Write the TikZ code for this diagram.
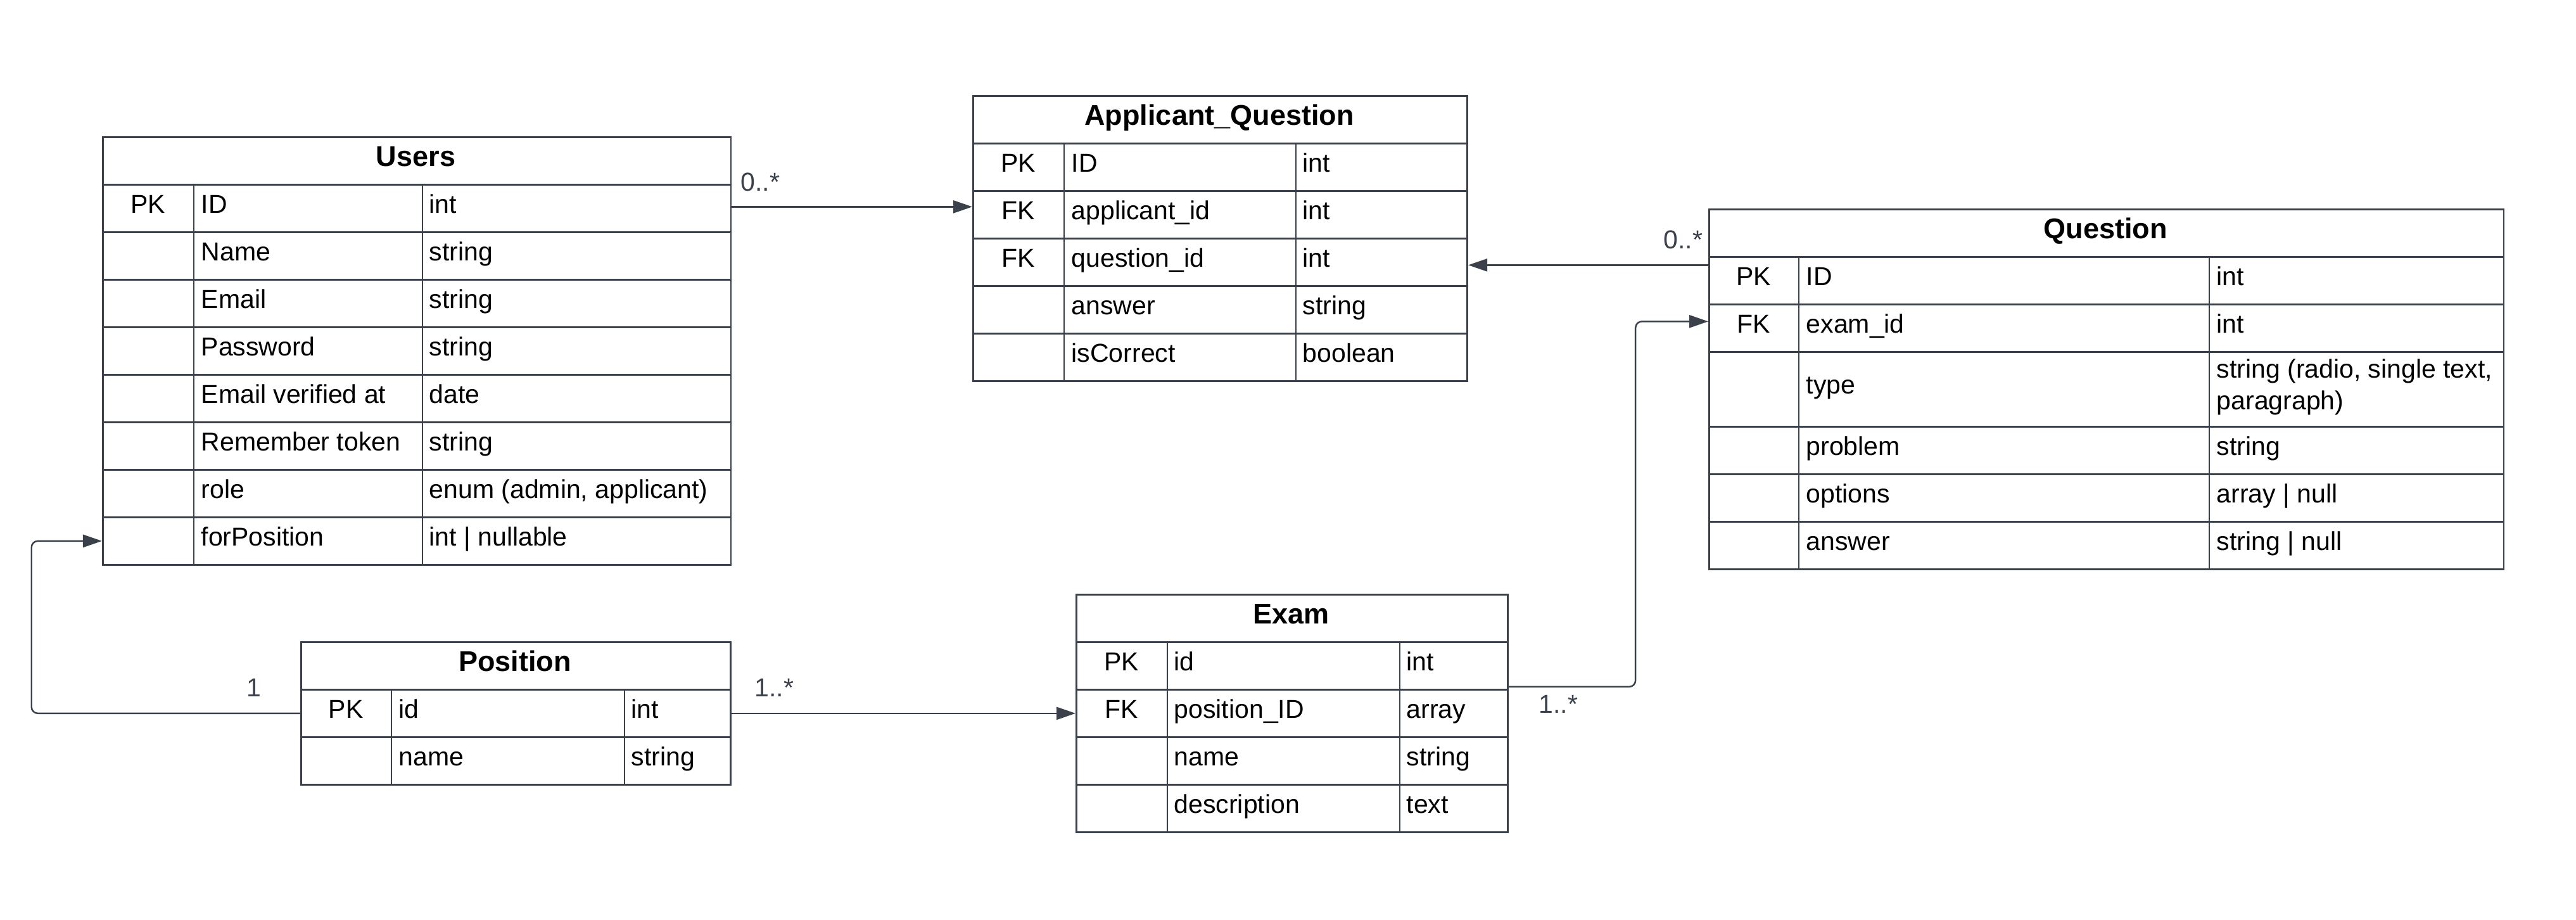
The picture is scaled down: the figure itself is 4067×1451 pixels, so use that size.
\documentclass[tikz,border=0pt]{standalone}
\usepackage{fontspec}
\setmainfont{Liberation Sans}
\usetikzlibrary{arrows.meta,calc}
\definecolor{linec}{HTML}{3A414A}
\definecolor{labc}{HTML}{3A414A}
\newcommand{\bodyfont}{\fontsize{11.66pt}{14pt}\selectfont}
\newcommand{\hdrfont}{\fontsize{12.8pt}{15pt}\selectfont\bfseries}
\tikzset{
  cell/.style={draw=linec, line width=0.75pt, inner sep=0pt, anchor=north west, minimum height=0.75cm},
  colline/.style={draw=linec, line width=0.75pt},
  htxt/.style={inner sep=0pt, anchor=base, font=\hdrfont, text=black},
  txt/.style={inner sep=0pt, anchor=base west, font=\bodyfont, text=black},
  ktxt/.style={inner sep=0pt, anchor=base, font=\bodyfont, text=black},
  conn/.style={draw=linec, line width=0.7pt, -{Triangle[length=0.3cm,width=0.2cm]}, rounded corners=0.1cm},
  mult/.style={inner sep=0pt, font=\bodyfont, text=labc}
}
\begin{document}
\begin{tikzpicture}[x=0.01cm,y=-0.01cm]
\useasboundingbox (0,0) rectangle (4067,1451);
\fill[white] (0,0) rectangle (4067,1451);

% ---------------- Users ----------------
\node[cell, minimum width=9.91cm] (users) at (161,215) {};
\node[htxt] (users-t) at (656.5,262) {Users};
\foreach \k/\n/\t [count=\i] in {PK/ID/int, {}/Name/string, {}/Email/string, {}/Password/string, {}/Email verified at/date, {}/Remember token/string, {}/role/{enum (admin, applicant)}, {}/forPosition/{int | nullable}} {
  \node[cell, minimum width=9.91cm] (U\i) at (161,{290+75*(\i-1)}) {};
  \node[ktxt] (U\i-k) at (233.5,{336+75*(\i-1)}) {\k};
  \node[txt] (U\i-n) at (317,{336+75*(\i-1)}) {\n};
  \node[txt] (U\i-t) at (677,{336+75*(\i-1)}) {\t};
}
\draw[colline] (306,290) -- (306,890) (667,290) -- (667,890);

% ---------------- Applicant_Question ----------------
\node[cell, minimum width=7.80cm] (aq) at (1535,150) {};
\node[htxt] (aq-t) at (1925,197) {Applicant\_Question};
\foreach \k/\n/\t [count=\i] in {PK/ID/int, FK/applicant\_id/int, FK/question\_id/int, {}/answer/string, {}/isCorrect/boolean} {
  \node[cell, minimum width=7.80cm] (A\i) at (1535,{225+75*(\i-1)}) {};
  \node[ktxt] (A\i-k) at (1607.5,{271+75*(\i-1)}) {\k};
  \node[txt] (A\i-n) at (1691,{271+75*(\i-1)}) {\n};
  \node[txt] (A\i-t) at (2056,{271+75*(\i-1)}) {\t};
}
\draw[colline] (1680,225) -- (1680,600) (2046,225) -- (2046,600);

% ---------------- Question ----------------
\node[cell, minimum width=12.54cm] (q) at (2697,329) {};
\node[htxt] (q-t) at (3324,376) {Question};
\node[cell, minimum width=12.54cm] (Q1) at (2697,404) {};
\node[cell, minimum width=12.54cm] (Q2) at (2697,479) {};
\node[cell, minimum width=12.54cm, minimum height=1.18cm] (Q3) at (2697,554) {};
\node[cell, minimum width=12.54cm] (Q4) at (2697,672) {};
\node[cell, minimum width=12.54cm] (Q5) at (2697,747) {};
\node[cell, minimum width=12.54cm] (Q6) at (2697,822) {};
\draw[colline] (2840,404) -- (2840,897) (3488,404) -- (3488,897);
\node[ktxt] (Q1-k) at (2768.5,450) {PK};
\node[txt]  (Q1-n) at (2851,450) {ID};
\node[txt]  (Q1-t) at (3499,450) {int};
\node[ktxt] (Q2-k) at (2768.5,525) {FK};
\node[txt]  (Q2-n) at (2851,525) {exam\_id};
\node[txt]  (Q2-t) at (3499,525) {int};
\node[txt]  (Q3-n) at (2851,621) {type};
\node[txt]  (Q3-t) at (3499,596) {string (radio, single text,};
\node[txt]  (Q3-u) at (3499,646) {paragraph)};
\node[txt]  (Q4-n) at (2851,718) {problem};
\node[txt]  (Q4-t) at (3499,718) {string};
\node[txt]  (Q5-n) at (2851,793) {options};
\node[txt]  (Q5-t) at (3499,793) {array | null};
\node[txt]  (Q6-n) at (2851,868) {answer};
\node[txt]  (Q6-t) at (3499,868) {string | null};

% ---------------- Position ----------------
\node[cell, minimum width=6.78cm] (pos) at (474,1012) {};
\node[htxt] (pos-t) at (813,1059) {Position};
\foreach \k/\n/\t [count=\i] in {PK/id/int, {}/name/string} {
  \node[cell, minimum width=6.78cm] (P\i) at (474,{1087+75*(\i-1)}) {};
  \node[ktxt] (P\i-k) at (546,{1133+75*(\i-1)}) {\k};
  \node[txt] (P\i-n) at (629,{1133+75*(\i-1)}) {\n};
  \node[txt] (P\i-t) at (996,{1133+75*(\i-1)}) {\t};
}
\draw[colline] (618,1087) -- (618,1237) (986,1087) -- (986,1237);

% ---------------- Exam ----------------
\node[cell, minimum width=6.81cm] (exam) at (1698,937) {};
\node[htxt] (exam-t) at (2038.5,984) {Exam};
\foreach \k/\n/\t [count=\i] in {PK/id/int, FK/position\_ID/array, {}/name/string, {}/description/text} {
  \node[cell, minimum width=6.81cm] (E\i) at (1698,{1012+75*(\i-1)}) {};
  \node[ktxt] (E\i-k) at (1770.5,{1058+75*(\i-1)}) {\k};
  \node[txt] (E\i-n) at (1853,{1058+75*(\i-1)}) {\n};
  \node[txt] (E\i-t) at (2220,{1058+75*(\i-1)}) {\t};
}
\draw[colline] (1843,1012) -- (1843,1312) (2210,1012) -- (2210,1312);

% ---------------- Connectors ----------------
\draw[conn] ([yshift=0.025cm]U1.east) -- ([yshift=0.025cm]U1.east -| A2.west);
\node[mult, anchor=base west] (m1) at (1169,301) {0..*};

\draw[conn] ([yshift=-0.045cm]A3.east -| Q1.west) -- ([yshift=-0.045cm]A3.east);
\node[mult, anchor=base east] (m2) at (2689,392) {0..*};

\draw[conn] (P1.west) -- ++(-4.24cm,0) |- (U8.west);
\node[mult, anchor=base east] (m3) at (413,1099) {1};

\draw[conn] (P1.east) -- (P1.east -| E2.west);
\node[mult, anchor=base west] (m4) at (1191,1099) {1..*};

\draw[conn] ([yshift=-0.33cm]E1.east) -- ++(2.0cm,0) |- ([yshift=0.105cm]Q2.west);
\node[mult, anchor=base west] (m5) at (2429,1125) {1..*};
\end{tikzpicture}
\end{document}
